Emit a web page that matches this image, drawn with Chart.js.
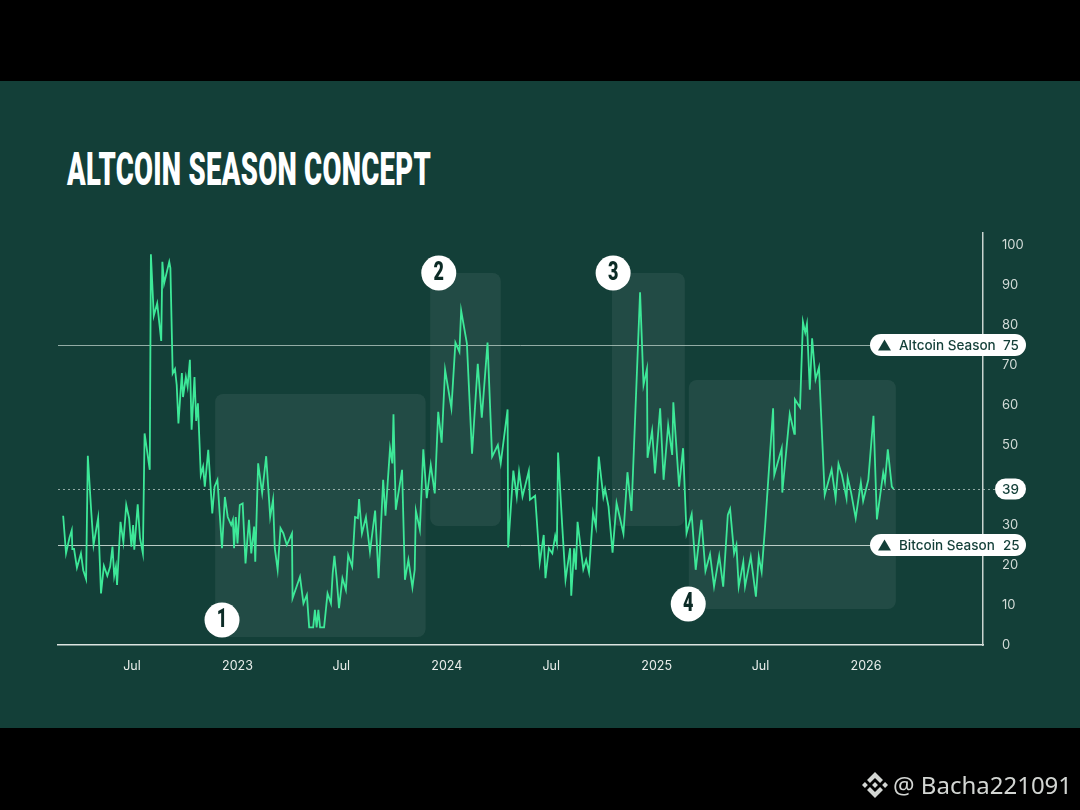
<!DOCTYPE html>
<html>
<head>
<meta charset="utf-8">
<script src="https://cdn.jsdelivr.net/npm/chart.js@4.4.1/dist/chart.umd.min.js"></script>
<style>
  html, body { margin: 0; padding: 0; background: #000; }
  #page { position: relative; width: 1080px; height: 810px; overflow: hidden; background: #000; }
  #panel { position: absolute; left: 0; top: 81px; width: 1080px; height: 647px; background: #133f38; }
  #titre { position: absolute; left: 67px; top: 146px; margin: 0; font-family: Roboto, sans-serif; font-weight: 900;
           font-size: 46px; line-height: 1; color: #fff; white-space: nowrap; transform-origin: 0 0; letter-spacing: 0.5px; }
  #monGraphique { position: absolute; left: 0; top: 0; }
  #watermark { position: absolute; left: 862px; top: 768px; display: flex; align-items: center; color: #d3d6d3;
               font-family: "Noto Sans", sans-serif; font-size: 24px; }
  #watermark svg { width: 26px; height: 26px; margin-right: 5px; }
</style>
</head>
<body>
<div id="page">
  <div id="panel"></div>
  <h1 id="titre">ALTCOIN SEASON CONCEPT</h1>
  <canvas id="monGraphique" width="1080" height="810"></canvas>
  <div id="watermark">
    <svg viewBox="0 0 126.61 126.61"><path fill="#d3d6d3" d="M38.73 53.2l24.59-24.58 24.6 24.6 14.3-14.31L63.32 0 24.43 38.9zM0 63.31l14.3-14.31 14.31 14.31-14.31 14.3zM38.73 73.41l24.59 24.59 24.6-24.6 14.31 14.29-38.9 38.91-38.91-38.88zM97.99 63.31l14.3-14.31 14.31 14.3-14.31 14.31zM77.83 63.3l-14.51-14.52-14.53 14.52 14.53 14.53z"/></svg>
    <span>@ Bacha221091</span>
  </div>
</div>
<script>
// Données : jours depuis le 1er janvier 2022 et valeur de l'indice
const days = [61,66,72,76,77,80,85,92,96,101,104,110,114,122,127,132,138,143,147,150,
  153,155,161,166,171,176,180,183,185,191,195,200,203,212,214,219,225,232,234,237,
  246,248,252,256,259,262,268,270,275,278,282,285,290,293,296,301,305,308,314,321,
  325,330,338,343,348,354,357,359,362,365,369,374,379,385,389,394,396,401,408,415,
  422,427,430,435,440,445,451,460,461,474,480,486,490,497,500,503,506,509,516,522,
  528,531,534,538,542,548,554,558,565,570,575,577,582,589,596,605,611,619,623,631,
  635,637,641,652,657,663,670,674,676,683,689,695,702,709,715,721,727,738,745,752,
  755,765,774,784,791,801,809,819,824,836,837,846,852,856,862,873,875,884,892,899,
  902,908,914,919,922,924,931,937,945,947,952,955,958,968,973,978,985,990,992,995,
  1003,1006,1012,1019,1026,1038,1045,1052,1067,1073,1079,1080,1088,1093,1102,1108,1116,1123,1125,1135,
  1142,1148,1157,1164,1174,1181,1189,1196,1205,1212,1220,1224,1231,1235,1239,1247,1250,1260,1269,1274,
  1279,1285,1299,1301,1314,1315,1328,1336,1337,1346,1351,1355,1358,1363,1367,1373,1379,1389,1401,1408,
  1413,1419,1427,1429,1435,1443,1452,1456,1465,1474,1480,1491,1494,1499,1506,1509];

const values = [32.3,22.9,26.8,28.7,24,24,19.3,22.9,18.7,16.5,47.3,33.3,25,31.8,12.9,19.8,17.3,19.6,24.6,17.3,
  19.6,15,30.8,25.7,35,31.7,24.6,30,23.8,35.2,26.7,22.9,52.9,43.8,97.7,82.3,85.4,76,95.8,90.4,
  95.8,94.2,67.9,69,65,55.4,68,62,67,64.6,71.3,53.8,67,56,60.4,42.5,44.6,39.6,48.8,32.9,
  39.6,41.3,24.2,37,32,30,31.3,24.2,32,25.4,35,35.4,20.4,31.3,22.9,29.6,20.8,45.4,38,47.2,
  32,36.3,24.2,18.8,29.2,27.9,25,27.9,11.7,17.1,10.4,12.5,4.4,4.4,8.8,4.4,8.8,4.4,4.4,12.9,
  10.4,17.9,22.3,16.5,9.2,16.7,13.8,22.5,19.6,32,31.7,36.5,27.9,32,23.3,33.6,16.7,41.3,32.3,49.2,
  45.4,57.7,33.8,43.8,16.3,21.3,14.4,18.8,33.6,28.8,48.9,36.7,45,37.9,58.3,50.6,68.8,59.2,75.6,73.3,
  83.6,75.4,47.8,70.3,56.8,75.6,47.1,50,45.4,58.9,24.4,43.6,37.1,43.3,37.1,43.5,36.3,37.3,20.6,27.5,
  16.7,24.2,22.9,27.3,25.4,48.1,30.4,16.3,24.2,12.3,24.2,18.8,30.8,18.9,21.3,18.1,33.1,29.6,37.1,47.1,
  37,39,34.6,23.1,35.5,27.8,43.2,33.5,88.2,65,69,46.8,53.6,42.9,59.2,41.3,55,47.5,60.7,39.6,
  49.2,27.9,32.7,18.8,31.3,18.5,22.7,14.6,22.3,14.6,32.5,34,22.9,25,14.6,20.8,14.6,22.1,12.1,22.1,
  18.3,29.6,59.2,42.5,49.2,38.1,57.8,52.8,61.4,59.4,80.8,78.1,80.3,63.8,76.7,66.4,69.4,37.5,43.9,36.7,
  45.3,42.5,36.7,41.9,38.1,31.7,40.6,36,41.3,57.3,31.4,43.1,40.8,48.9,39.6,39];

// Axe X : positions des graduations (jours) et libellés
const tickDays = [181, 365, 546, 730, 912, 1096, 1277, 1461];
const tickLabels = ['Jul', '2023', 'Jul', '2024', 'Jul', '2025', 'Jul', '2026'];
const yTicks = [0, 10, 20, 30, 40, 50, 60, 70, 80, 90, 100];

// Seuils et valeur actuelle
const seuils = [75, 25];
const seuilLabels = ['Altcoin Season', 'Bitcoin Season'];
const valeurActuelle = 39;

// Zones numérotées (jours de début / fin, bas / haut)
const zoneStart = [326, 701, 1018, 1152];
const zoneEnd = [693, 824, 1145, 1513];
const zoneLow = [2, 29.75, 29.75, 9];
const zoneHigh = [62.75, 93, 93, 66.25];
const zoneNums = ['1', '2', '3', '4'];
const badgeDay = [338, 716, 1020, 1151];
const badgeValue = [6.25, 93, 93, 10.25];

const VERT_FONCE = '#133f38';

// Ajuste la largeur du titre (police condensée simulée)
const titre = document.getElementById('titre');
titre.style.transform = 'scaleX(' + (364 / titre.getBoundingClientRect().width) + ')';

function roundRect(ctx, x, y, w, h, r) {
    ctx.beginPath();
    ctx.moveTo(x + r, y);
    ctx.arcTo(x + w, y, x + w, y + h, r);
    ctx.arcTo(x + w, y + h, x, y + h, r);
    ctx.arcTo(x, y + h, x, y, r);
    ctx.arcTo(x, y, x + w, y, r);
    ctx.closePath();
}

// Zones + lignes de seuil sous la courbe
const fondPlugin = {
    id: 'fond',
    beforeDatasetsDraw(chart) {
        const { ctx, chartArea } = chart;
        const sx = chart.scales.x, sy = chart.scales.y;
        ctx.save();
        ctx.fillStyle = 'rgba(255,255,255,0.065)';
        zoneStart.forEach((d, i) => {
            const x1 = sx.getPixelForValue(d), x2 = sx.getPixelForValue(zoneEnd[i]);
            const y1 = sy.getPixelForValue(zoneHigh[i]), y2 = sy.getPixelForValue(zoneLow[i]);
            roundRect(ctx, x1, y1, x2 - x1, y2 - y1, 8);
            ctx.fill();
        });
        ctx.lineWidth = 1;
        seuils.forEach((s, i) => {
            const y = Math.round(sy.getPixelForValue(s)) + 0.5;
            ctx.strokeStyle = i === 0 ? 'rgba(190,210,202,0.75)' : 'rgba(215,228,222,0.85)';
            ctx.beginPath();
            ctx.moveTo(chartArea.left, y);
            ctx.lineTo(chartArea.right, y);
            ctx.stroke();
        });
        const yv = Math.round(sy.getPixelForValue(valeurActuelle)) + 0.5;
        ctx.strokeStyle = 'rgba(200,215,210,0.7)';
        ctx.setLineDash([2, 3]);
        ctx.beginPath();
        ctx.moveTo(chartArea.left, yv);
        ctx.lineTo(chartArea.right + 14, yv);
        ctx.stroke();
        ctx.restore();
    }
};

// Pastilles et numéros au-dessus
const etiquettesPlugin = {
    id: 'etiquettes',
    afterDatasetsDraw(chart) {
        const { ctx, chartArea } = chart;
        const sx = chart.scales.x, sy = chart.scales.y;
        const right = chartArea.right;
        ctx.save();
        ctx.textBaseline = 'middle';
        seuils.forEach((s, i) => {
            const y = sy.getPixelForValue(s);
            ctx.fillStyle = '#ffffff';
            roundRect(ctx, right - 113, y - 11, 156, 22, 11);
            ctx.fill();
            ctx.fillStyle = VERT_FONCE;
            ctx.beginPath();
            ctx.moveTo(right - 105, y + 5.5);
            ctx.lineTo(right - 98.5, y - 5.5);
            ctx.lineTo(right - 92, y + 5.5);
            ctx.closePath();
            ctx.fill();
            ctx.font = '500 13.5px Inter';
            ctx.textAlign = 'left';
            ctx.fillText(seuilLabels[i], right - 84, y + 0.5);
            ctx.fillText(String(s), right + 20, y + 0.5);
        });
        const yv = sy.getPixelForValue(valeurActuelle);
        ctx.fillStyle = '#ffffff';
        roundRect(ctx, right + 12, yv - 10.5, 31, 21, 10.5);
        ctx.fill();
        ctx.fillStyle = VERT_FONCE;
        ctx.font = '500 13.5px Inter';
        ctx.textAlign = 'center';
        ctx.fillText(String(valeurActuelle), right + 27.5, yv + 0.5);

        zoneNums.forEach((n, i) => {
            const cx = sx.getPixelForValue(badgeDay[i]), cy = sy.getPixelForValue(badgeValue[i]);
            ctx.fillStyle = '#ffffff';
            ctx.beginPath();
            ctx.arc(cx, cy, 17.5, 0, Math.PI * 2);
            ctx.fill();
            ctx.save();
            ctx.translate(cx, cy + 1);
            ctx.scale(0.72, 1);
            ctx.fillStyle = '#0c2b26';
            ctx.font = '900 25px Roboto';
            ctx.textAlign = 'center';
            ctx.fillText(n, 0, 0);
            ctx.restore();
        });
        ctx.restore();
    }
};

const ctx = document.getElementById('monGraphique').getContext('2d');
const myChart = new Chart(ctx, {
    type: 'line',
    data: {
        datasets: [{
            data: days.map((d, i) => ({ x: d, y: values[i] })),
            borderColor: '#3de898',
            borderWidth: 1.8,
            pointRadius: 0,
            tension: 0,
            fill: false
        }]
    },
    options: {
        responsive: false,
        animation: false,
        layout: { padding: { left: 58, top: 233, right: 0, bottom: 0 } },
        plugins: { legend: { display: false }, tooltip: { enabled: false } },
        scales: {
            x: {
                type: 'linear',
                min: 52,
                max: 1665,
                grid: { display: false, drawTicks: false },
                border: { display: true, color: '#dce4e0', width: 1.5 },
                ticks: {
                    color: '#e8edea',
                    font: { family: 'Inter', size: 12.5 },
                    padding: 14,
                    autoSkip: false,
                    maxRotation: 0,
                    callback: (v, i) => tickLabels[i]
                },
                afterBuildTicks: s => { s.ticks = tickDays.map(v => ({ value: v })); },
                afterFit: s => { s.height = 165; }
            },
            y: {
                position: 'right',
                min: 0,
                max: 103,
                grid: { display: false, drawTicks: false },
                border: { display: true, color: '#c9d4cf', width: 1.5 },
                ticks: {
                    color: '#d2dbd7',
                    font: { family: 'Inter', size: 13 },
                    padding: 19
                },
                afterBuildTicks: s => { s.ticks = yTicks.map(v => ({ value: v })); },
                afterFit: s => { s.width = 97; }
            }
        }
    },
    plugins: [fondPlugin, etiquettesPlugin]
});
</script>
</body>
</html>
